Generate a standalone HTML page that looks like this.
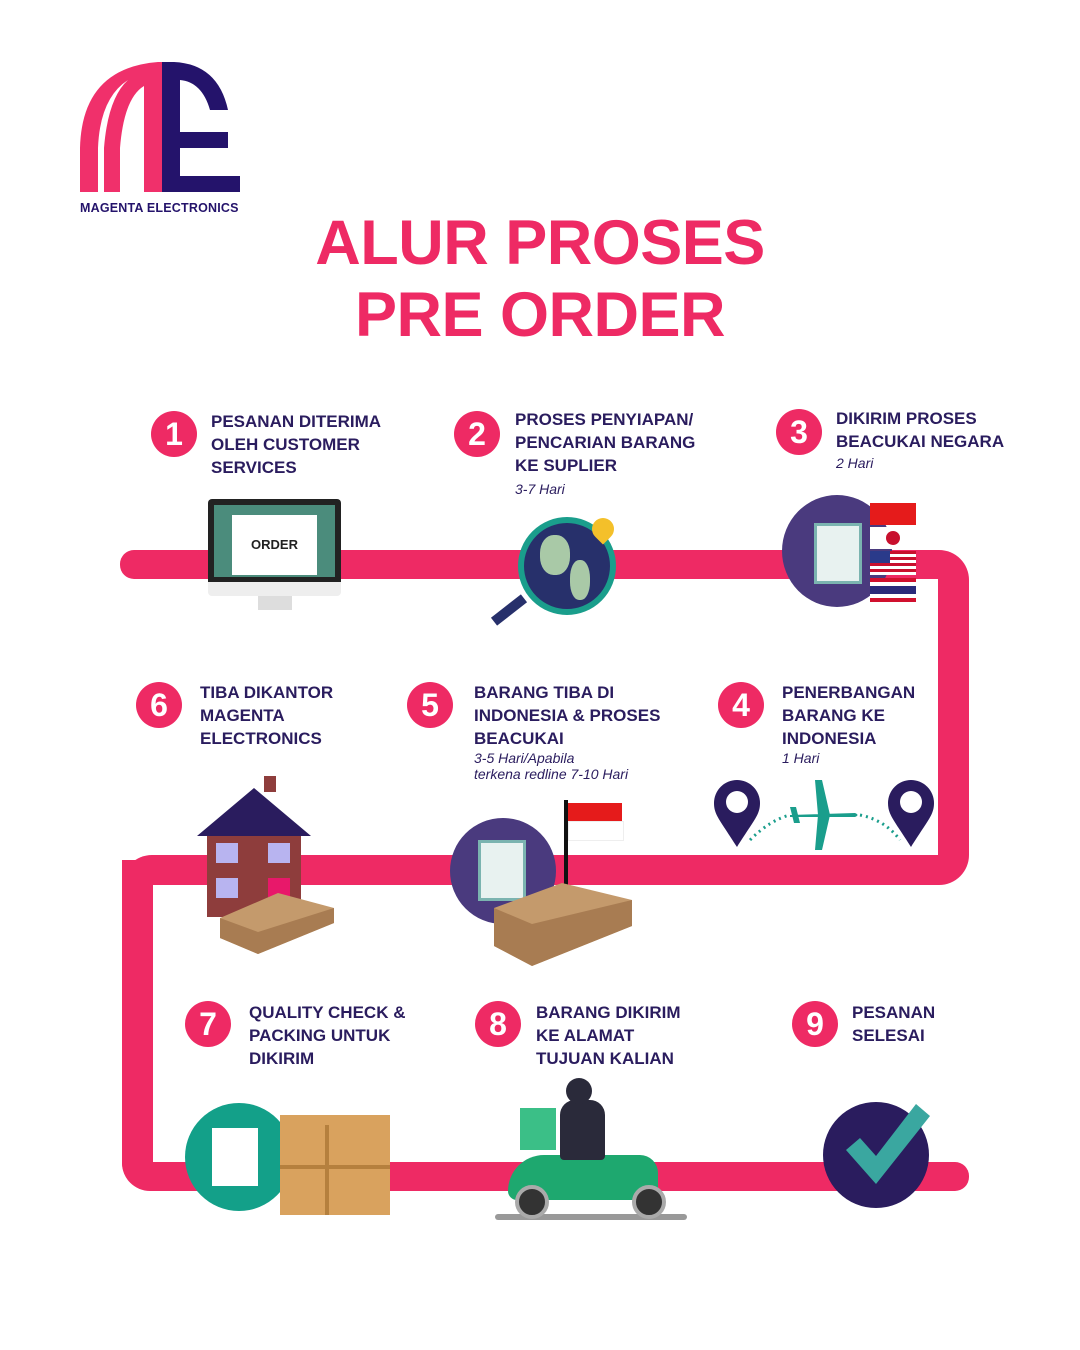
<!DOCTYPE html>
<html><head><meta charset="utf-8"><style>
body{margin:0;width:1080px;height:1350px;background:#fff;position:relative;overflow:hidden;font-family:"Liberation Sans",sans-serif}
.a{position:absolute}
.t{position:absolute;color:#2a1c5e;font-weight:bold;font-size:17px;line-height:23px}
.t i{font-weight:normal;font-size:14px;line-height:16px;display:block}
.n{position:absolute;width:46px;height:46px;border-radius:50%;background:#ee2a64;color:#fff;font-weight:bold;font-size:32px;line-height:46px;text-align:center}
.p{position:absolute;background:#ee2a64}
</style></head><body>
<!-- logo -->
<svg class="a" style="left:78px;top:58px" width="170" height="140">
<path d="M2 134 L2 90 Q4 10 80 4 L84 4 L84 134 L66 134 L66 28 Q46 40 42 90 L42 134 L26 134 L26 90 Q30 40 50 22 Q22 40 20 90 L20 134 Z" fill="#f0306b"/>
<path d="M84 4 L96 4 Q140 6 150 52 L132 52 Q124 24 102 22 L102 74 L150 74 L150 90 L102 90 L102 118 L162 118 L162 134 L84 134 Z" fill="#24136b"/>
</svg>
<div class="a" style="left:80px;top:201px;font-size:12.5px;font-weight:bold;color:#24136b;letter-spacing:0.2px">MAGENTA ELECTRONICS</div>
<div class="a" style="left:0;width:1080px;top:207px;text-align:center;color:#ee2a64;font-weight:bold;font-size:63px;line-height:72px;letter-spacing:-0.5px">ALUR PROSES<br>PRE ORDER</div>
<!-- path -->
<div class="p" style="left:120px;top:550px;width:818px;height:29px;border-radius:14px 0 0 14px"></div>
<div class="p" style="left:908px;top:550px;width:61px;height:335px;border-radius:0 30px 30px 0"></div>
<div class="a" style="left:908px;top:579px;width:30px;height:276px;background:#fff"></div>
<div class="p" style="left:122px;top:855px;width:816px;height:30px;border-radius:30px 0 0 0"></div>
<div class="p" style="left:122px;top:860px;width:31px;height:330px;border-radius:0 0 0 28px"></div>
<div class="p" style="left:122px;top:1162px;width:847px;height:29px;border-radius:0 14px 14px 28px"></div>
<!-- steps -->
<div class="n" style="left:151px;top:411px">1</div><div class="t" style="left:211px;top:410px">PESANAN DITERIMA<br>OLEH CUSTOMER<br>SERVICES</div>
<div class="n" style="left:454px;top:411px">2</div><div class="t" style="left:515px;top:408px">PROSES PENYIAPAN/<br>PENCARIAN BARANG<br>KE SUPLIER<i style="margin-top:4px">3-7 Hari</i></div>
<div class="n" style="left:776px;top:409px">3</div><div class="t" style="left:836px;top:407px">DIKIRIM PROSES<br>BEACUKAI NEGARA<i style="margin-top:2px">2 Hari</i></div>
<div class="n" style="left:136px;top:682px">6</div><div class="t" style="left:200px;top:681px">TIBA DIKANTOR<br>MAGENTA<br>ELECTRONICS</div>
<div class="n" style="left:407px;top:682px">5</div><div class="t" style="left:474px;top:681px">BARANG TIBA DI<br>INDONESIA &amp; PROSES<br>BEACUKAI<i>3-5 Hari/Apabila<br>terkena redline 7-10 Hari</i></div>
<div class="n" style="left:718px;top:682px">4</div><div class="t" style="left:782px;top:681px">PENERBANGAN<br>BARANG KE<br>INDONESIA<i>1 Hari</i></div>
<div class="n" style="left:185px;top:1001px">7</div><div class="t" style="left:249px;top:1001px">QUALITY CHECK &amp;<br>PACKING UNTUK<br>DIKIRIM</div>
<div class="n" style="left:475px;top:1001px">8</div><div class="t" style="left:536px;top:1001px">BARANG DIKIRIM<br>KE ALAMAT<br>TUJUAN KALIAN</div>
<div class="n" style="left:792px;top:1001px">9</div><div class="t" style="left:852px;top:1001px">PESANAN<br>SELESAI</div>
<!-- monitor -->
<div class="a" style="left:208px;top:499px;width:133px;height:88px;background:#222;border-radius:4px"></div>
<div class="a" style="left:214px;top:505px;width:121px;height:72px;background:#4b8c7c"></div>
<div class="a" style="left:232px;top:515px;width:85px;height:60px;background:#fff;font-size:13px;font-weight:bold;text-align:center;line-height:60px;color:#222">ORDER</div>
<div class="a" style="left:208px;top:582px;width:133px;height:14px;background:#eee;border-radius:0 0 4px 4px"></div>
<div class="a" style="left:258px;top:596px;width:34px;height:14px;background:#ddd"></div>
<!-- globe -->
<div class="a" style="left:518px;top:517px;width:86px;height:86px;border-radius:50%;background:#27306b;border:6px solid #1a9e8c"></div>
<div class="a" style="left:540px;top:535px;width:30px;height:40px;border-radius:45%;background:#a9c9a7"></div>
<div class="a" style="left:570px;top:560px;width:20px;height:40px;border-radius:45%;background:#a9c9a7"></div>
<div class="a" style="left:490px;top:605px;width:38px;height:10px;background:#27306b;transform:rotate(-38deg)"></div>
<div class="a" style="left:592px;top:518px;width:22px;height:22px;border-radius:50% 50% 50% 0;background:#f4c02a;transform:rotate(-45deg)"></div>
<!-- step3 -->
<div class="a" style="left:782px;top:495px;width:110px;height:112px;border-radius:50%;background:#4a3a7e"></div>
<div class="a" style="left:814px;top:523px;width:42px;height:55px;background:#e8f2f0;border:3px solid #7bb4b0"></div>
<div class="a" style="left:870px;top:503px;width:46px;height:22px;background:#e51b1b"></div>
<div class="a" style="left:870px;top:527px;width:46px;height:22px;background:#fff"></div>
<div class="a" style="left:886px;top:531px;width:14px;height:14px;border-radius:50%;background:#c8102e"></div>
<div class="a" style="left:870px;top:551px;width:46px;height:24px;background:repeating-linear-gradient(#c8102e 0 3px,#fff 3px 6px)"></div>
<div class="a" style="left:870px;top:551px;width:20px;height:12px;background:#2a3a8a"></div>
<div class="a" style="left:870px;top:578px;width:46px;height:24px;background:linear-gradient(#d0102e 0 4px,#fff 4px 8px,#2a2a7a 8px 16px,#fff 16px 20px,#d0102e 20px)"></div>
<!-- step4 pins plane -->
<svg class="a" style="left:710px;top:775px" width="230" height="80">
<path d="M27 72 C10 45 4 40 4 28 A23 23 0 0 1 50 28 C50 40 44 45 27 72Z" fill="#2a1c5e"/><circle cx="27" cy="27" r="11" fill="#fff"/>
<path d="M201 72 C184 45 178 40 178 28 A23 23 0 0 1 224 28 C224 40 218 45 201 72Z" fill="#2a1c5e"/><circle cx="201" cy="27" r="11" fill="#fff"/>
<path d="M40 65 Q60 45 80 40 M150 40 Q175 45 190 65" stroke="#1a9e8c" stroke-width="3" stroke-dasharray="2 4" fill="none"/>
<path d="M80 40 L145 38 Q150 40 145 42 L80 42Z M105 5 L112 5 L120 40 L112 75 L105 75 L108 40Z M80 32 L86 32 L90 48 L84 48Z" fill="#1a9e8c"/>
</svg>
<!-- house -->
<div class="a" style="left:207px;top:835px;width:94px;height:82px;background:#8e3d3c"></div>
<div class="a" style="left:197px;top:788px;width:0;height:0;border-left:57px solid transparent;border-right:57px solid transparent;border-bottom:48px solid #2a1c5e"></div>
<div class="a" style="left:264px;top:776px;width:12px;height:16px;background:#8e3d3c"></div>
<div class="a" style="left:216px;top:843px;width:22px;height:20px;background:#b8b4f0"></div>
<div class="a" style="left:268px;top:843px;width:22px;height:20px;background:#b8b4f0"></div>
<div class="a" style="left:216px;top:878px;width:22px;height:20px;background:#b8b4f0"></div>
<div class="a" style="left:268px;top:878px;width:22px;height:20px;background:#e8186a"></div>
<svg class="a" style="left:218px;top:888px" width="120" height="70"><path d="M2 30 L60 5 L116 20 L116 35 L40 66 L2 50Z" fill="#c49a6c"/><path d="M2 30 L40 44 L116 20 L116 35 L40 66 L2 50Z" fill="#a87c52"/></svg>
<!-- step5 -->
<div class="a" style="left:450px;top:818px;width:106px;height:106px;border-radius:50%;background:#4a3a7e"></div>
<div class="a" style="left:478px;top:840px;width:42px;height:55px;background:#e8f2f0;border:3px solid #7bb4b0"></div>
<div class="a" style="left:564px;top:800px;width:4px;height:85px;background:#111"></div>
<div class="a" style="left:568px;top:803px;width:54px;height:18px;background:#e51b1b"></div>
<div class="a" style="left:568px;top:821px;width:54px;height:18px;background:#fff;border:1px solid #eee"></div>
<svg class="a" style="left:492px;top:878px" width="142" height="90"><path d="M2 30 L70 5 L140 22 L140 48 L40 88 L2 68Z" fill="#c49a6c"/><path d="M2 30 L40 46 L140 22 L140 48 L40 88 L2 68Z" fill="#a87c52"/></svg>
<!-- step7 -->
<div class="a" style="left:185px;top:1103px;width:108px;height:108px;border-radius:50%;background:#13a089"></div>
<div class="a" style="left:212px;top:1128px;width:46px;height:58px;background:#fff"></div>
<div class="a" style="left:280px;top:1115px;width:110px;height:100px;background:#d9a25e"></div>
<div class="a" style="left:325px;top:1125px;width:4px;height:90px;background:#b5803e"></div>
<div class="a" style="left:280px;top:1165px;width:110px;height:4px;background:#b5803e"></div>
<!-- scooter -->
<div class="a" style="left:495px;top:1214px;width:192px;height:6px;background:#999;border-radius:3px"></div>
<div class="a" style="left:520px;top:1108px;width:36px;height:42px;background:#3bbf87"></div>
<div class="a" style="left:508px;top:1155px;width:150px;height:45px;background:#1ea86f;border-radius:40px 20px 10px 10px"></div>
<div class="a" style="left:515px;top:1185px;width:34px;height:34px;border-radius:50%;background:#333;border:4px solid #aaa;box-sizing:border-box"></div>
<div class="a" style="left:632px;top:1185px;width:34px;height:34px;border-radius:50%;background:#333;border:4px solid #aaa;box-sizing:border-box"></div>
<div class="a" style="left:560px;top:1100px;width:45px;height:60px;background:#2a2a3a;border-radius:15px 15px 4px 4px"></div>
<div class="a" style="left:566px;top:1078px;width:26px;height:26px;border-radius:50%;background:#2a2a3a"></div>
<!-- step9 -->
<div class="a" style="left:823px;top:1102px;width:106px;height:106px;border-radius:50%;background:#2a1c5e"></div>
<svg class="a" style="left:840px;top:1100px" width="92" height="90"><path d="M6 50 L20 38 L36 56 L76 4 L90 16 L36 84Z" fill="#3aa7a0"/></svg>
</body></html>
